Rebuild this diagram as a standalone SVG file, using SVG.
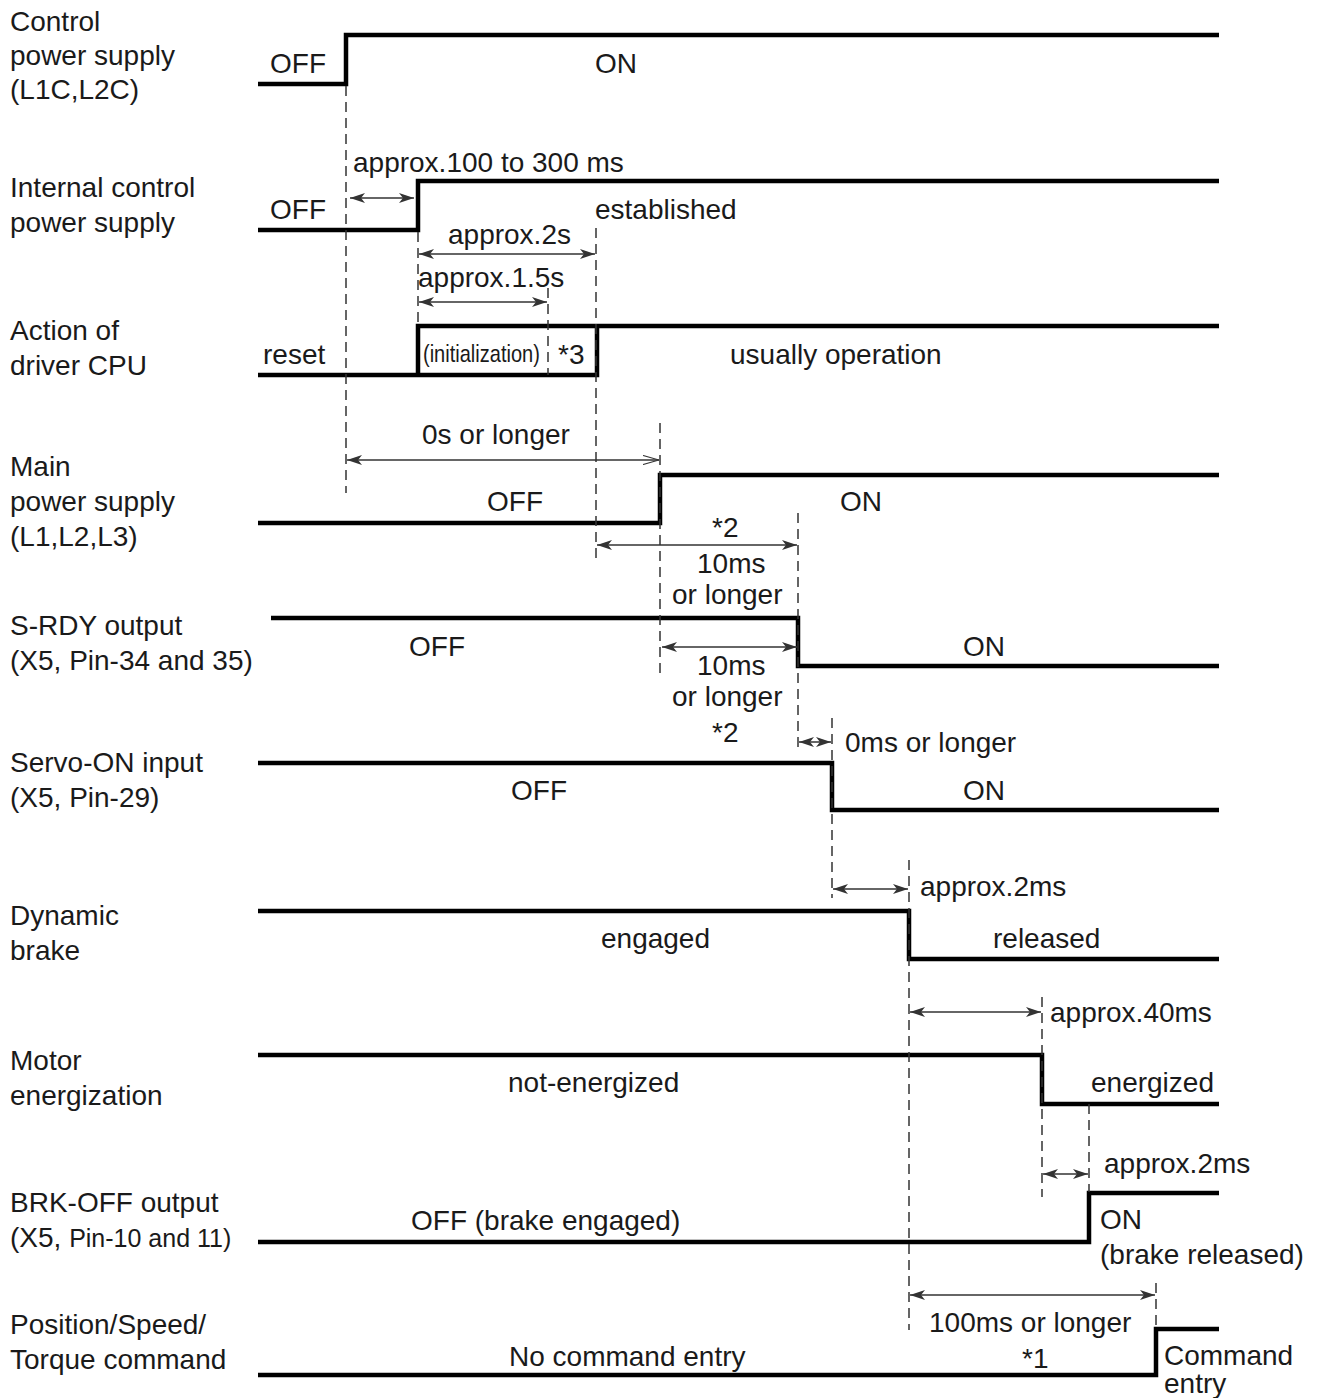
<svg xmlns="http://www.w3.org/2000/svg" width="1319" height="1398" viewBox="0 0 1319 1398">
<style>
text{font-family:"Liberation Sans",Arial,sans-serif;font-size:28px;fill:#1a1a1a}
.sig{fill:none;stroke:#000;stroke-width:4.5;stroke-linejoin:miter}
.dash{fill:none;stroke:#333;stroke-width:1.5;stroke-dasharray:10 6}
.arr{fill:none;stroke:#333;stroke-width:1.5;marker-start:url(#ah);marker-end:url(#ah)}
.cond{font-size:24px}
.small{font-size:25px}
</style>
<defs>
<marker id="ah" viewBox="0 0 15 10" refX="15" refY="5" markerWidth="15" markerHeight="10" markerUnits="userSpaceOnUse" orient="auto-start-reverse">
<path d="M0,0 L15,5 L0,10 L4,5 z" fill="#333"/>
</marker>
<marker id="ao" viewBox="0 0 16 10" refX="16" refY="5" markerWidth="16" markerHeight="10" markerUnits="userSpaceOnUse" orient="auto">
<path d="M0,0.5 L16,5 L0,9.5" fill="none" stroke="#333" stroke-width="1.2"/>
</marker>
</defs>

<g id="labels">
<text x="10" y="31">Control</text>
<text x="10" y="65">power supply</text>
<text x="10" y="99">(L1C,L2C)</text>
<text x="10" y="197">Internal control</text>
<text x="10" y="232">power supply</text>
<text x="10" y="340">Action of</text>
<text x="10" y="375">driver CPU</text>
<text x="10" y="476">Main</text>
<text x="10" y="511">power supply</text>
<text x="10" y="546">(L1,L2,L3)</text>
<text x="10" y="635">S-RDY output</text>
<text x="10" y="670">(X5, Pin-34 and 35)</text>
<text x="10" y="772">Servo-ON input</text>
<text x="10" y="807">(X5, Pin-29)</text>
<text x="10" y="925">Dynamic</text>
<text x="10" y="960">brake</text>
<text x="10" y="1070">Motor</text>
<text x="10" y="1105">energization</text>
<text x="10" y="1212">BRK-OFF output</text>
<text x="10" y="1247">(X5, <tspan class="small">Pin-10 and 11)</tspan></text>
<text x="10" y="1334">Position/Speed/</text>
<text x="10" y="1369">Torque command</text>
</g>

<g id="sig-control-power">
<path class="sig" d="M258,84 H346 V35 H1219"/>
<text x="270" y="73">OFF</text>
<text x="595" y="73">ON</text>
</g>

<g id="sig-internal-power">
<path class="sig" d="M258,230 H418 V181 H1219"/>
<text x="270" y="219">OFF</text>
<text x="595" y="219">established</text>
</g>

<g id="sig-cpu">
<path class="sig" d="M258,375 H597 V326 M418,375 V326 H1219"/>
<text x="263" y="364">reset</text>
<text class="cond" transform="translate(423,362) scale(0.835,1)">(initialization)</text>
<text x="558" y="364">*3</text>
<text x="730" y="364">usually operation</text>
</g>

<g id="sig-main-power">
<path class="sig" d="M258,523 H660 V475 H1219"/>
<text x="487" y="511">OFF</text>
<text x="840" y="511">ON</text>
</g>

<g id="sig-srdy">
<path class="sig" d="M271,618 H798 V666 H1219"/>
<text x="409" y="656">OFF</text>
<text x="963" y="656">ON</text>
</g>

<g id="sig-servo-on">
<path class="sig" d="M258,763 H832 V810 H1219"/>
<text x="511" y="800">OFF</text>
<text x="963" y="800">ON</text>
</g>

<g id="sig-dynamic-brake">
<path class="sig" d="M258,911 H909 V959 H1219"/>
<text x="601" y="948">engaged</text>
<text x="993" y="948">released</text>
</g>

<g id="sig-motor">
<path class="sig" d="M258,1055 H1042 V1104 H1219"/>
<text x="508" y="1092">not-energized</text>
<text x="1091" y="1092">energized</text>
</g>

<g id="sig-brk-off">
<path class="sig" d="M258,1242 H1089 V1193 H1219"/>
<text x="411" y="1230">OFF (brake engaged)</text>
<text x="1100" y="1229">ON</text>
<text x="1100" y="1264">(brake released)</text>
</g>

<g id="sig-command">
<path class="sig" d="M258,1375 H1156 V1329 H1219"/>
<text x="509" y="1366">No command entry</text>
<text x="1164" y="1365">Command</text>
<text x="1164" y="1393">entry</text>
</g>

<g id="connectors">
<g id="guides">
<line class="dash" x1="346" y1="86" x2="346" y2="493"/>
<line class="dash" x1="418" y1="232" x2="418" y2="326"/>
<line class="dash" x1="548" y1="288" x2="548" y2="375"/>
<line class="dash" x1="596" y1="228" x2="596" y2="563"/>
<line class="dash" x1="660" y1="423" x2="660" y2="677"/>
<line class="dash" x1="798" y1="513" x2="798" y2="752"/>
<line class="dash" x1="832" y1="718" x2="832" y2="898"/>
<line class="dash" x1="909" y1="860" x2="909" y2="1330"/>
<line class="dash" x1="1042" y1="997" x2="1042" y2="1197"/>
<line class="dash" x1="1089" y1="1104" x2="1089" y2="1192"/>
<line class="dash" x1="1156" y1="1283" x2="1156" y2="1329"/>
</g>
<g id="timings">
<line class="arr" x1="350" y1="198" x2="414" y2="198"/>
<text x="353" y="172">approx.100 to 300 ms</text>
<line class="arr" x1="419" y1="254" x2="595" y2="254"/>
<text x="448" y="244">approx.2s</text>
<line class="arr" x1="419" y1="302" x2="547" y2="302"/>
<text x="418" y="287">approx.1.5s</text>
<line x1="347" y1="460" x2="659" y2="460" fill="none" stroke="#333" stroke-width="1.5" marker-start="url(#ah)" marker-end="url(#ao)"/>
<text x="422" y="444">0s or longer</text>
<line class="arr" x1="597" y1="545" x2="797" y2="545"/>
<text x="712" y="537">*2</text>
<text x="697" y="573">10ms</text>
<text x="672" y="604">or longer</text>
<line class="arr" x1="662" y1="647" x2="797" y2="647"/>
<text x="697" y="675">10ms</text>
<text x="672" y="706">or longer</text>
<text x="712" y="742">*2</text>
<line class="arr" x1="799" y1="742" x2="831" y2="742"/>
<text x="845" y="752">0ms or longer</text>
<line class="arr" x1="833" y1="889" x2="908" y2="889"/>
<text x="920" y="896">approx.2ms</text>
<line class="arr" x1="910" y1="1012" x2="1041" y2="1012"/>
<text x="1050" y="1022">approx.40ms</text>
<line class="arr" x1="1043" y1="1174" x2="1088" y2="1174"/>
<text x="1104" y="1173">approx.2ms</text>
<line class="arr" x1="910" y1="1295" x2="1155" y2="1295"/>
<text x="929" y="1332">100ms or longer</text>
<text x="1022" y="1368">*1</text>
</g>
</g>
</svg>
